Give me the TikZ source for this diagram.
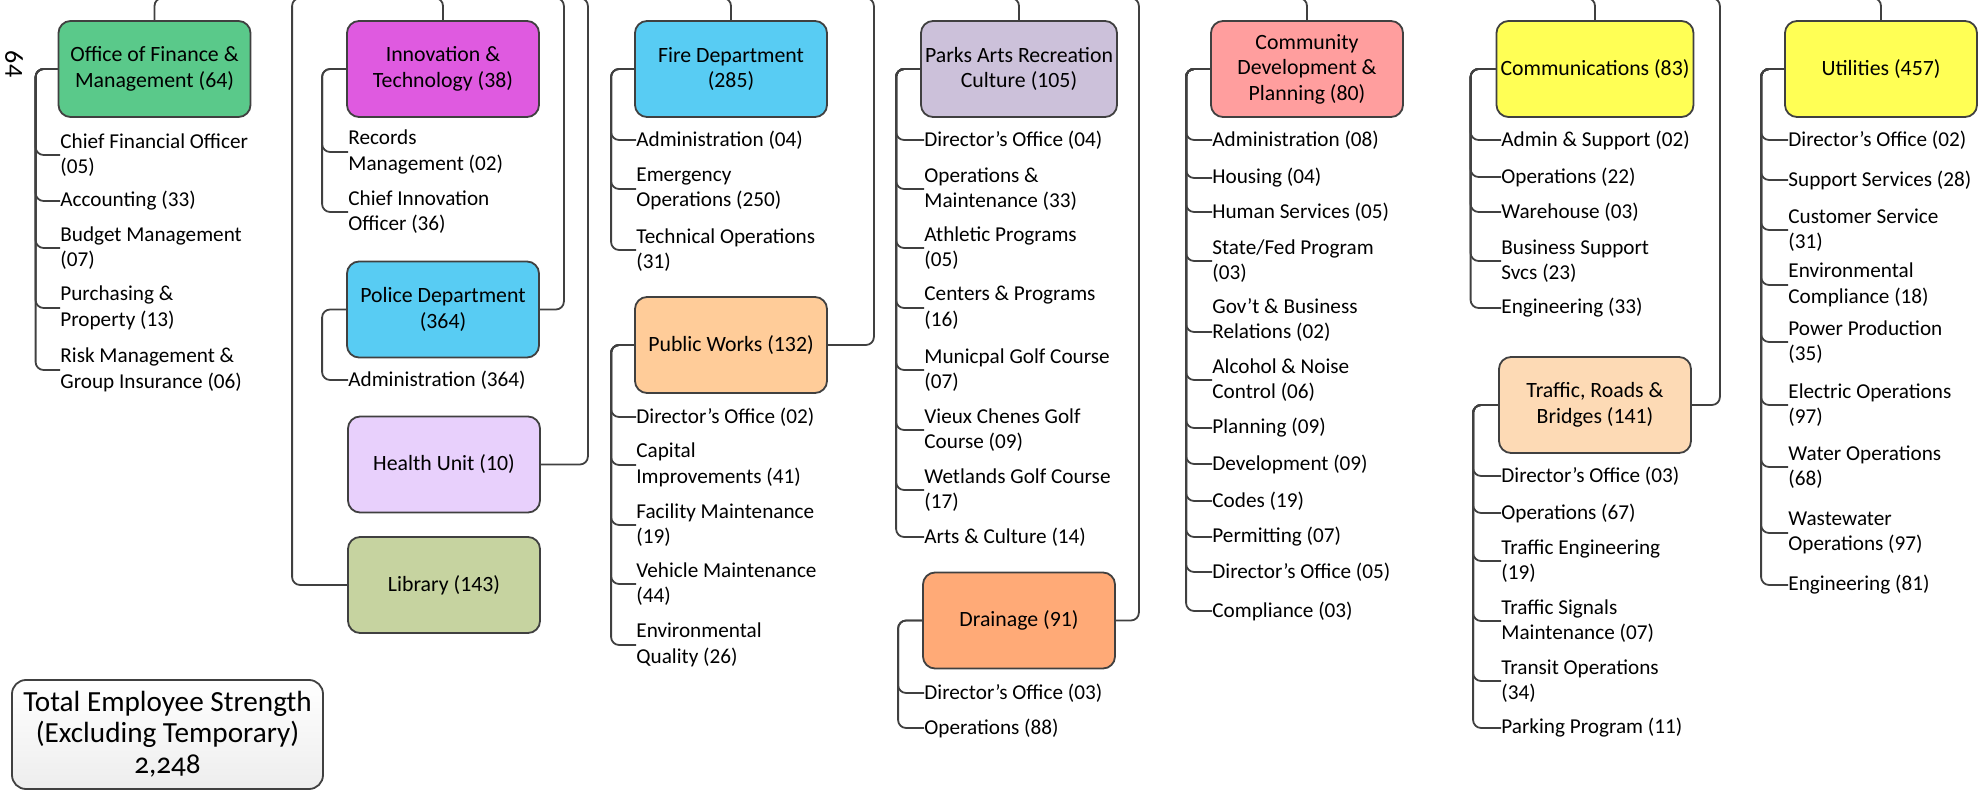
\documentclass[tikz,border=0pt]{standalone}
\usepackage{fontspec}
\setmainfont{Carlito}
\usetikzlibrary{positioning,calc}
\definecolor{OrgLine}{HTML}{404040}
\definecolor{OrgGreen}{HTML}{5AC98A}
\definecolor{OrgMagenta}{HTML}{DF5AE0}
\definecolor{OrgBlue}{HTML}{58CCF3}
\definecolor{OrgLilac}{HTML}{E8D0FC}
\definecolor{OrgOlive}{HTML}{C6D3A0}
\definecolor{OrgPeach}{HTML}{FFCC99}
\definecolor{OrgMauve}{HTML}{CCC1DA}
\definecolor{OrgOrange}{HTML}{FFAA77}
\definecolor{OrgPink}{HTML}{FF9E9E}
\definecolor{OrgYellow}{HTML}{FFFF55}
\definecolor{OrgSand}{HTML}{FDDAB5}

\begin{document}
\begin{tikzpicture}[x=0.5pt,y=-0.5pt]
    \tikzset{dept/.style={draw=OrgLine,line width=0.9pt,rounded corners=6pt,
      minimum width=96pt,minimum height=48pt,align=center,inner sep=2pt,
      font=\fontsize{10.9}{12.8}\selectfont},
      unit/.style={anchor=west,align=left,inner sep=0pt,font=\fontsize{10.6}{12.8}\selectfont},
      link/.style={draw=OrgLine,line width=0.9pt,rounded corners=4pt}}
    \useasboundingbox (0,0) rectangle (1978,791);
    \clip (0,0) rectangle (1978,791);
    \coordinate (hub) at (368,-2);
    \node[rotate=-90,inner sep=0pt,font=\fontsize{13}{15}\selectfont] (tag) at (14,64) {64};
    % departments
    \node[dept,fill=OrgGreen] (fin) at (154.5,69) {Office of Finance \&\\Management (64)};
    \node[dept,fill=OrgMagenta] (inno) at (443,69) {Innovation \&\\Technology (38)};
    \node[dept,fill=OrgBlue] (pol) at (443,309.5) {Police Department\\(364)};
    \node[dept,fill=OrgLilac] (hlth) at (444,464.5) {Health Unit (10)};
    \node[dept,fill=OrgOlive] (lib) at (444,585) {Library (143)};
    \node[dept,fill=OrgBlue] (fire) at (731,69) {Fire Department\\(285)};
    \node[dept,fill=OrgPeach] (pw) at (731,345) {Public Works (132)};
    \node[dept,fill=OrgMauve] (parks) at (1019,69) {Parks Arts Recreation\\Culture (105)};
    \node[dept,fill=OrgOrange] (drn) at (1019,620.5) {Drainage (91)};
    \node[dept,fill=OrgPink] (cdp) at (1307,69) {Community\\Development \&\\Planning (80)};
    \node[dept,fill=OrgYellow] (comm) at (1595,69) {Communications (83)};
    \node[dept,fill=OrgSand] (trb) at (1595,405) {Traffic, Roads \&\\Bridges (141)};
    \node[dept,fill=OrgYellow] (util) at (1881,69) {Utilities (457)};
    \node[dept,top color=white,bottom color=black!7,minimum width=155.5pt,minimum height=54.5pt,
      rounded corners=7pt,font=\fontsize{14.6}{15.6}\selectfont] (total) at (167.5,734.5)
      {Total Employee Strength\\(Excluding Temporary)\\{\addfontfeatures{Numbers=OldStyle}2,248}};
    % units
    \node[unit] (f1) at (60,155) {Chief Financial Officer\\(05)};
    \node[unit] (f2) at (60,201) {Accounting (33)};
    \node[unit] (f3) at (60,248) {Budget Management\\(07)};
    \node[unit] (f4) at (60,308) {Purchasing \&\\Property (13)};
    \node[unit] (f5) at (60,370) {Risk Management \&\\Group Insurance (06)};
    \node[unit] (i1) at (348,152) {Records\\Management (02)};
    \node[unit] (i2) at (348,212) {Chief Innovation\\Officer (36)};
    \node[unit] (p1) at (348,380) {Administration (364)};
    \node[unit] (fd1) at (636,140) {Administration (04)};
    \node[unit] (fd2) at (636,189) {Emergency\\Operations (250)};
    \node[unit] (fd3) at (636,250) {Technical Operations\\(31)};
    \node[unit] (pw1) at (636,417) {Director’s Office (02)};
    \node[unit] (pw2) at (636,465) {Capital\\Improvements (41)};
    \node[unit] (pw3) at (636,525) {Facility Maintenance\\(19)};
    \node[unit] (pw4) at (636,584) {Vehicle Maintenance\\(44)};
    \node[unit] (pw5) at (636,645) {Environmental\\Quality (26)};
    \node[unit] (pk1) at (924,140) {Director’s Office (04)};
    \node[unit] (pk2) at (924,189) {Operations \&\\Maintenance (33)};
    \node[unit] (pk3) at (924,248) {Athletic Programs\\(05)};
    \node[unit] (pk4) at (924,308) {Centers \& Programs\\(16)};
    \node[unit] (pk5) at (924,370) {Municpal Golf Course\\(07)};
    \node[unit] (pk6) at (924,430) {Vieux Chenes Golf\\Course (09)};
    \node[unit] (pk7) at (924,490) {Wetlands Golf Course\\(17)};
    \node[unit] (pk8) at (924,537) {Arts \& Culture (14)};
    \node[unit] (dr1) at (924,693) {Director’s Office (03)};
    \node[unit] (dr2) at (924,728) {Operations (88)};
    \node[unit] (cd1) at (1212,140) {Administration (08)};
    \node[unit] (cd2) at (1212,178) {Housing (04)};
    \node[unit] (cd3) at (1212,212) {Human Services (05)};
    \node[unit] (cd4) at (1212,261) {State/Fed Program\\(03)};
    \node[unit] (cd5) at (1212,320) {Gov’t \& Business\\Relations (02)};
    \node[unit] (cd6) at (1212,380) {Alcohol \& Noise\\Control (06)};
    \node[unit] (cd7) at (1212,428) {Planning (09)};
    \node[unit] (cd8) at (1212,464) {Development (09)};
    \node[unit] (cd9) at (1212,501) {Codes (19)};
    \node[unit] (cd10) at (1212,537) {Permitting (07)};
    \node[unit] (cd11) at (1212,572) {Director’s Office (05)};
    \node[unit] (cd12) at (1212,611) {Compliance (03)};
    \node[unit] (cm1) at (1501,140) {Admin \& Support (02)};
    \node[unit] (cm2) at (1501,177) {Operations (22)};
    \node[unit] (cm3) at (1501,212) {Warehouse (03)};
    \node[unit] (cm4) at (1501,261) {Business Support\\Svcs (23)};
    \node[unit] (cm5) at (1501,308) {Engineering (33)};
    \node[unit] (tr1) at (1501,476) {Director’s Office (03)};
    \node[unit] (tr2) at (1501,513) {Operations (67)};
    \node[unit] (tr3) at (1501,561) {Traffic Engineering\\(19)};
    \node[unit] (tr4) at (1501,621) {Traffic Signals\\Maintenance (07)};
    \node[unit] (tr5) at (1501,681) {Transit Operations\\(34)};
    \node[unit] (tr6) at (1501,728) {Parking Program (11)};
    \node[unit] (u1) at (1788,140) {Director’s Office (02)};
    \node[unit] (u2) at (1788,180) {Support Services (28)};
    \node[unit] (u3) at (1788,230) {Customer Service\\(31)};
    \node[unit] (u4) at (1788,285) {Environmental\\Compliance (18)};
    \node[unit] (u5) at (1788,342) {Power Production\\(35)};
    \node[unit] (u6) at (1788,405) {Electric Operations\\(97)};
    \node[unit] (u7) at (1788,467) {Water Operations\\(68)};
    \node[unit] (u8) at (1788,533) {Wastewater\\Operations (97)};
    \node[unit] (u9) at (1788,585) {Engineering (81)};
    % links from the top
    \draw[link] (hub) -| (fin.north);
    \draw[link] (hub) -| (inno.north);
    \draw[link] (hub) -| ([xshift=-27.5pt]lib.west) -- (lib.west);
    \draw[link] (hub) -| ([xshift=12pt]pol.east) -- (pol.east);
    \draw[link] (hub) -| ([xshift=23.5pt]hlth.east) -- (hlth.east);
    \draw[link] (hub) -| (fire.north);
    \draw[link] (hub) -| ([xshift=23pt]pw.east) -- (pw.east);
    \draw[link] (hub) -| (parks.north);
    \draw[link] (hub) -| ([xshift=11.5pt]drn.east) -- (drn.east);
    \draw[link] (hub) -| (cdp.north);
    \draw[link] (hub) -| (comm.north);
    \draw[link] (hub) -| ([xshift=14pt]trb.east) -- (trb.east);
    \draw[link] (hub) -| (util.north);
    % links to units
    \foreach \u in {f1,f2,f3,f4,f5} \draw[link] (fin.west) -- ++(-22,0) |- (\u.west);
    \foreach \u in {i1,i2} \draw[link] (inno.west) -- ++(-24,0) |- (\u.west);
    \draw[link] (pol.west) -- ++(-24,0) |- (p1.west);
    \foreach \u in {fd1,fd2,fd3} \draw[link] (fire.west) -- ++(-23,0) |- (\u.west);
    \foreach \u in {pw1,pw2,pw3,pw4,pw5} \draw[link] (pw.west) -- ++(-23,0) |- (\u.west);
    \foreach \u in {pk1,pk2,pk3,pk4,pk5,pk6,pk7,pk8} \draw[link] (parks.west) -- ++(-24,0) |- (\u.west);
    \foreach \u in {dr1,dr2} \draw[link] (drn.west) -- ++(-24,0) |- (\u.west);
    \foreach \u in {cd1,cd2,cd3,cd4,cd6,cd7,cd8,cd9,cd10,cd11,cd12} \draw[link] (cdp.west) -- ++(-24,0) |- (\u.west);
    \draw[link] (cdp.west) -- ++(-24,0) |- ([yshift=-6pt]cd5.west);
    \foreach \u in {cm1,cm2,cm3,cm4,cm5} \draw[link] (comm.west) -- ++(-25,0) |- (\u.west);
    \foreach \u in {tr1,tr2,tr3,tr4,tr5,tr6} \draw[link] (trb.west) -- ++(-25,0) |- (\u.west);
    \foreach \u in {u1,u2,u3,u4,u5,u6,u7,u8,u9} \draw[link] (util.west) -- ++(-23,0) |- (\u.west);
\end{tikzpicture}
\end{document}
